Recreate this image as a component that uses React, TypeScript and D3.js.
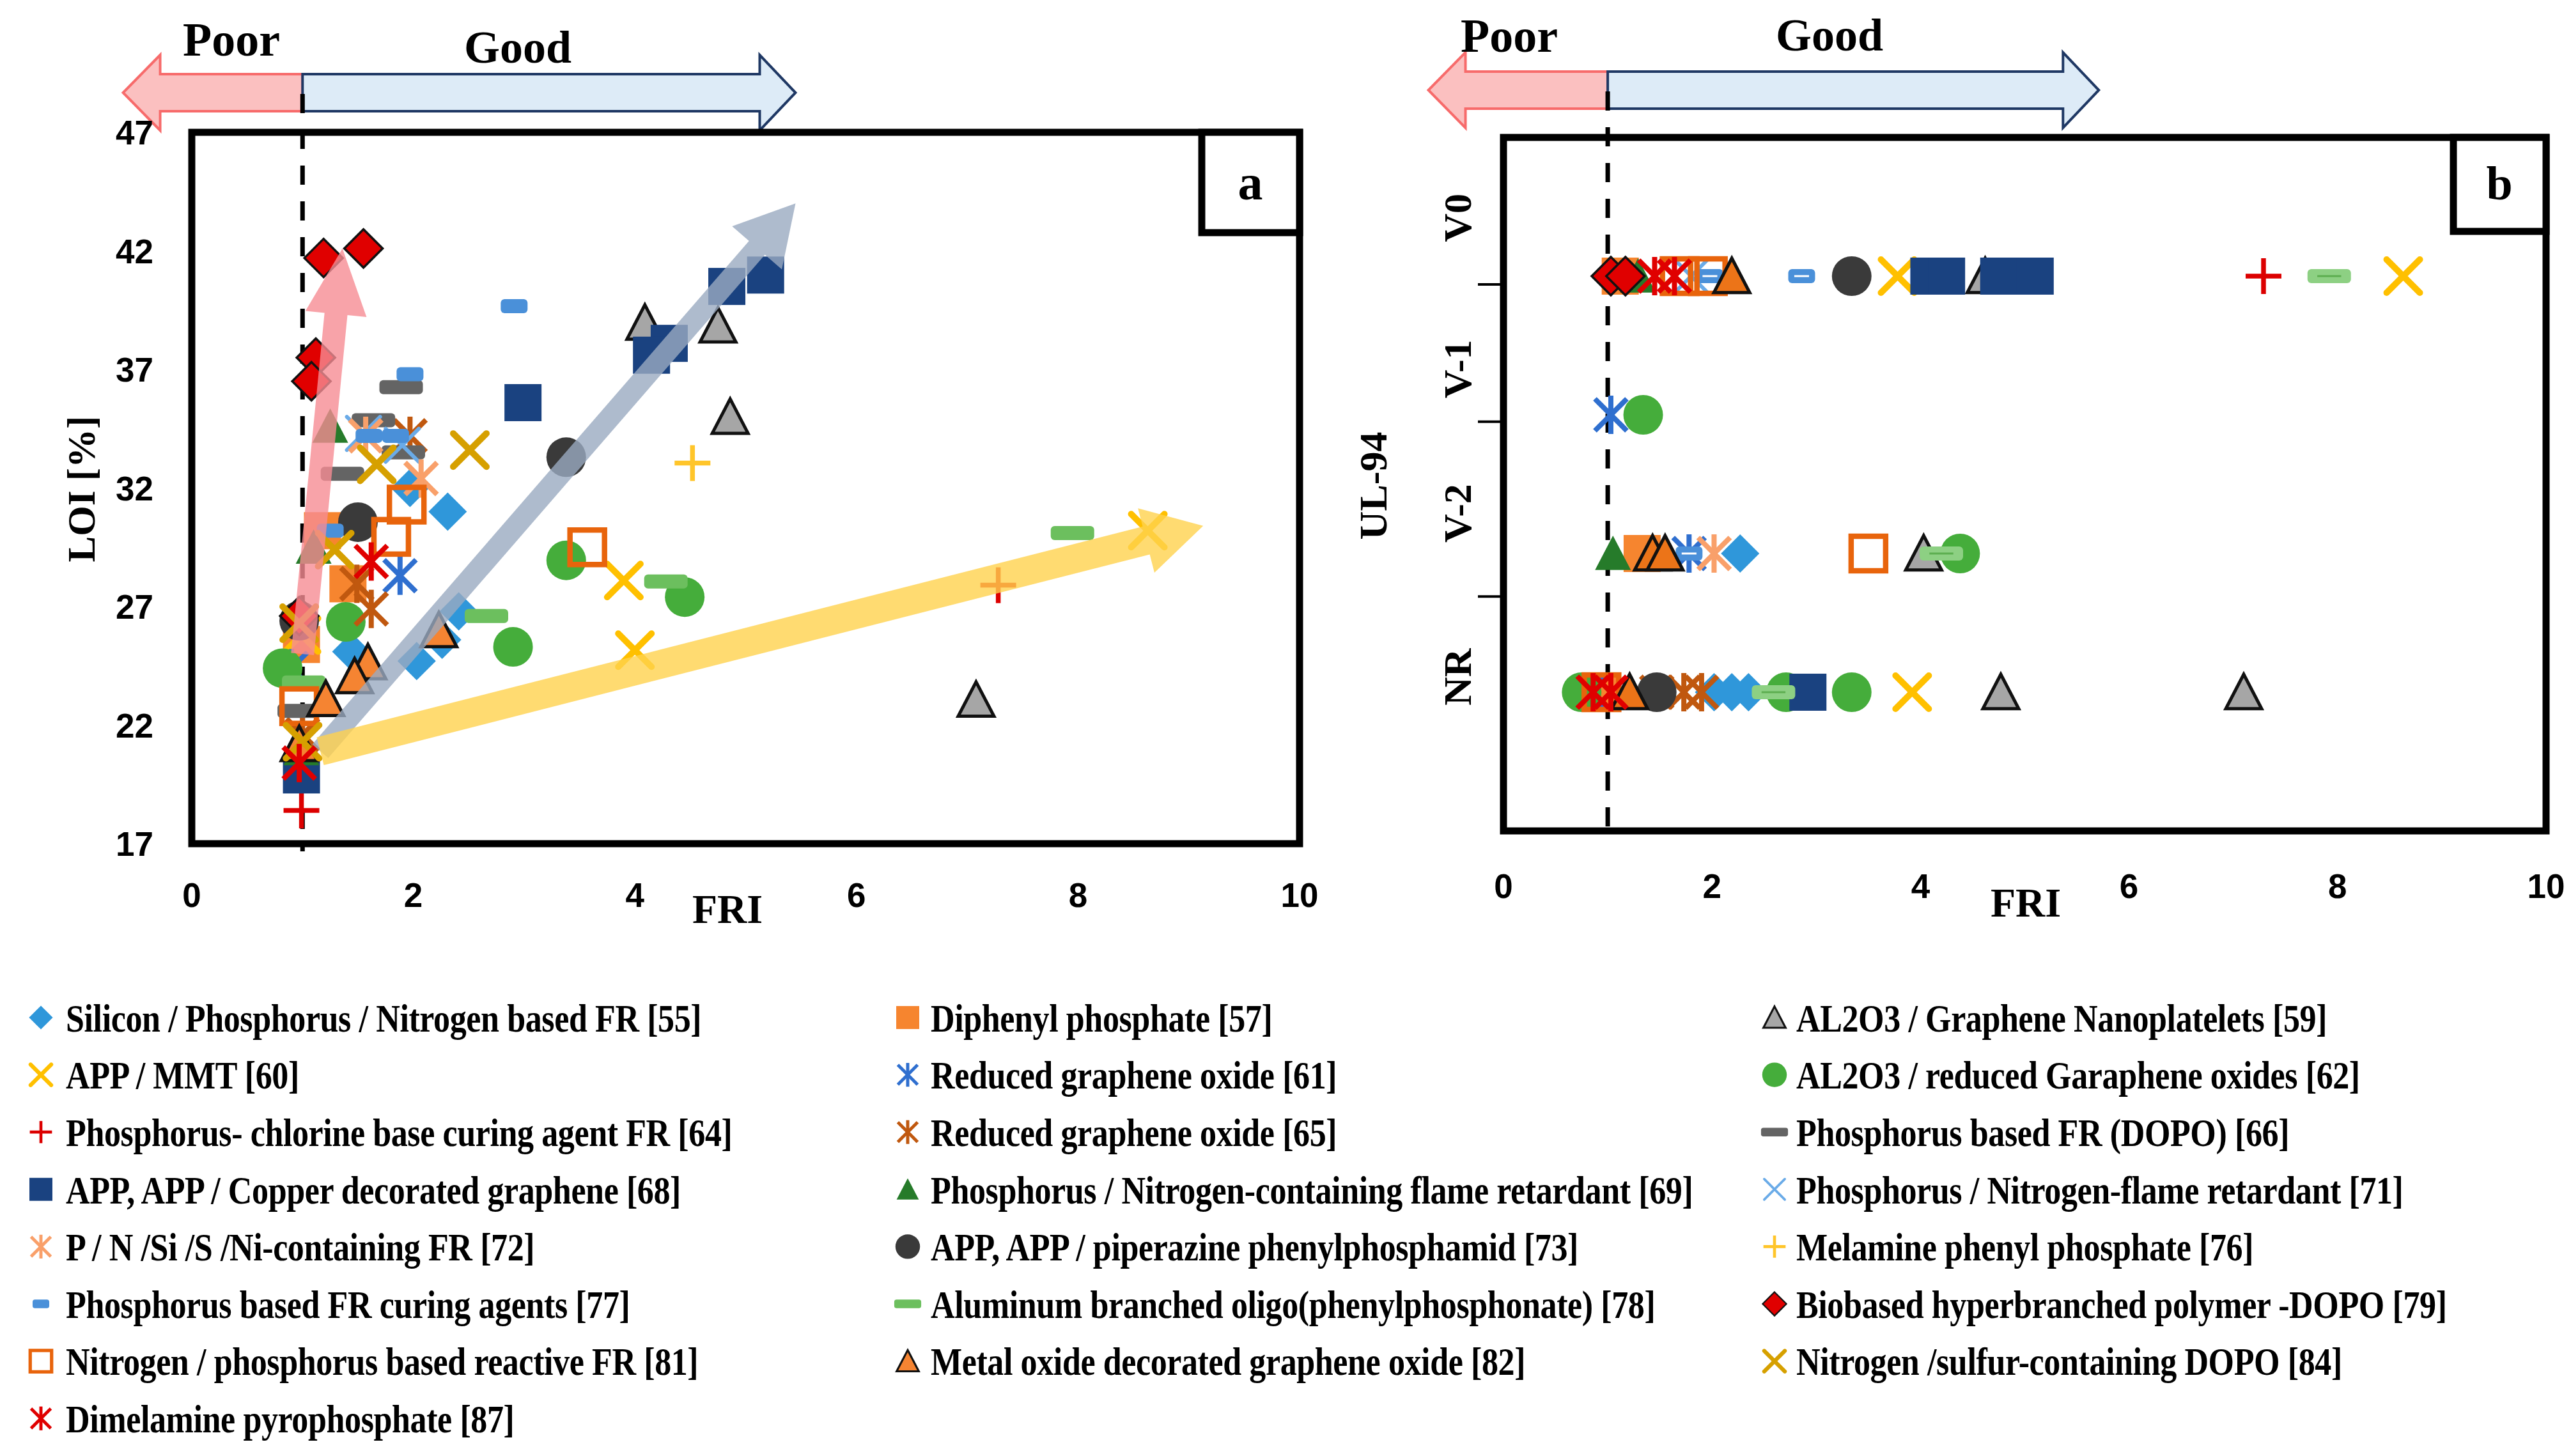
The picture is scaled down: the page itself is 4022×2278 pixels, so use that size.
import * as d3 from "d3";
import { useEffect, useRef } from "react";

const W = 4022;
const H = 2278;

const SERIF = "'Liberation Serif', 'Times New Roman', serif";
const SANS = "'Liberation Sans', Arial, sans-serif";

// axis ticks
const xTicks = [0, 2, 4, 6, 8, 10];
const loiTicks = [17, 22, 27, 32, 37, 42, 47];
const ulCategories = ["NR", "V-2", "V-1", "V0"];
const ulLabelPos = [1.11, 2.29, 3.33, 4.42];
const ulTickPos = [1.69, 2.95, 3.94];

const seriesNames = [
  "Silicon / Phosphorus / Nitrogen based FR [55]",
  "Diphenyl phosphate [57]",
  "AL2O3 / Graphene Nanoplatelets [59]",
  "APP / MMT [60]",
  "Reduced graphene oxide [61]",
  "AL2O3 / reduced Garaphene oxides [62]",
  "Phosphorus- chlorine base curing agent FR [64]",
  "Reduced graphene oxide [65]",
  "Phosphorus based FR (DOPO) [66]",
  "APP, APP / Copper decorated graphene [68]",
  "Phosphorus / Nitrogen-containing flame retardant [69]",
  "Phosphorus / Nitrogen-flame retardant [71]",
  "P / N /Si /S /Ni-containing FR [72]",
  "APP, APP / piperazine phenylphosphamid [73]",
  "Melamine phenyl phosphate [76]",
  "Phosphorus based FR curing agents [77]",
  "Aluminum branched oligo(phenylphosphonate) [78]",
  "Biobased hyperbranched polymer -DOPO [79]",
  "Nitrogen / phosphorus based reactive FR [81]",
  "Metal oxide decorated graphene oxide [82]",
  "Nitrogen /sulfur-containing DOPO [84]",
  "Dimelamine pyrophosphate [87]",
];

// panel a: [FRI, LOI]
const loiData: [number, number][][] = [
  [[1.97, 32.0], [2.31, 31.0], [2.41, 26.8], [2.26, 25.6], [2.03, 24.7], [1.44, 25.1]],
  [[1.18, 30.2], [1.41, 27.96], [0.99, 25.4]],
  [[4.09, 38.97], [4.75, 38.85], [4.86, 35.0], [7.08, 23.07]],
  [[8.63, 30.2], [3.9, 28.1], [4.0, 25.16], [0.99, 25.8]],
  [[1.88, 28.3], [0.9, 24.4]],
  [[3.38, 28.95], [4.45, 27.4], [2.9, 25.3], [1.39, 26.35], [0.82, 24.4]],
  [[7.28, 27.9], [0.99, 18.4]],
  [[1.97, 34.2], [1.49, 27.96], [1.62, 26.9], [1.0, 21.6]],
  [[1.89, 36.25], [1.64, 34.86], [1.91, 33.5], [1.36, 32.6], [0.97, 22.6]],
  [[5.18, 40.98], [4.83, 40.5], [4.31, 38.1], [4.15, 37.6], [2.99, 35.6], [0.99, 19.9]],
  [[1.25, 34.6], [1.1, 29.5], [0.99, 21.0]],
  [[1.9, 33.8], [1.55, 34.3]],
  [[1.57, 34.2], [2.07, 32.4]],
  [[3.38, 33.3], [1.5, 30.56], [0.97, 26.4]],
  [[4.52, 33.05]],
  [[2.91, 39.67], [1.97, 36.8], [1.6, 34.2], [1.84, 34.2], [1.25, 30.2]],
  [[7.95, 30.1], [4.28, 28.06], [2.66, 26.6], [1.01, 23.8]],
  [[1.19, 41.7], [1.55, 42.1], [1.12, 37.5], [1.08, 36.5], [0.97, 26.6]],
  [[3.57, 29.5], [1.94, 31.3], [1.8, 29.94], [0.97, 22.8]],
  [[2.23, 26.0], [1.59, 24.65], [1.47, 24.06], [1.21, 23.1], [0.97, 21.2]],
  [[2.51, 33.6], [1.67, 33.0], [1.29, 29.4], [0.97, 26.3], [1.0, 21.3]],
  [[1.62, 28.9], [0.97, 20.4]],
];

// panel b: [FRI, UL-94 rating]
const ulData: [number, string][][] = [
  [[2.27, "V-2"], [2.02, "NR"], [2.19, "NR"], [2.35, "NR"]],
  [[1.12, "V0"], [1.33, "V-2"], [0.95, "NR"]],
  [[4.62, "V0"], [4.03, "V-2"], [4.77, "NR"], [7.1, "NR"]],
  [[3.78, "V0"], [8.63, "V0"], [3.92, "NR"]],
  [[1.03, "V-1"], [1.78, "V-2"], [0.8, "NR"]],
  [[1.34, "V-1"], [4.38, "V-2"], [0.75, "NR"], [2.71, "NR"], [3.34, "NR"]],
  [[7.29, "V0"]],
  [[1.47, "NR"], [1.73, "NR"], [1.9, "NR"]],
  [],
  [[4.08, "V0"], [4.25, "V0"], [4.75, "V0"], [4.95, "V0"], [5.1, "V0"], [2.92, "NR"]],
  [[1.29, "V0"], [1.05, "V-2"]],
  [[1.8, "V0"]],
  [[2.02, "V-2"]],
  [[3.34, "V0"], [1.47, "NR"]],
  [],
  [[1.98, "V0"], [2.86, "V0"], [1.78, "V-2"]],
  [[7.92, "V0"], [4.2, "V-2"], [2.59, "NR"]],
  [[1.03, "V0"], [1.17, "V0"]],
  [[1.69, "V0"], [1.96, "V0"], [3.5, "V-2"], [0.94, "NR"]],
  [[2.19, "V0"], [1.43, "V-2"], [1.55, "V-2"], [1.21, "NR"]],
  [],
  [[1.45, "V0"], [1.64, "V0"], [0.86, "NR"], [1.03, "NR"]],
];

type Shape = "diamond" | "square" | "osquare" | "triangle" | "circle" | "x" | "star" | "plus" | "dash" | "sdash";
type Style = { shape: Shape; color: string; edge?: string; thin?: boolean; bColor?: string; inner?: string };

const seriesStyle: Style[] = [
  { shape: "diamond", color: "#2F97DA" },
  { shape: "square", color: "#F6852F" },
  { shape: "triangle", color: "#A6A6A6", edge: "#111" },
  { shape: "x", color: "#FFC000" },
  { shape: "star", color: "#2F6FCF" },
  { shape: "circle", color: "#45AD3B" },
  { shape: "plus", color: "#DC0000" },
  { shape: "star", color: "#C0580F" },
  { shape: "dash", color: "#646464" },
  { shape: "square", color: "#1A4280" },
  { shape: "triangle", color: "#267B2A" },
  { shape: "x", color: "#6AABE8", thin: true },
  { shape: "star", color: "#F9A06A" },
  { shape: "circle", color: "#3A3A3A" },
  { shape: "plus", color: "#FFC52A" },
  { shape: "sdash", color: "#4A90D9", inner: "#FFFFFF" },
  { shape: "dash", color: "#6CBF5E", bColor: "#8DD083", inner: "#5DAE50" },
  { shape: "diamond", color: "#E00000", edge: "#111" },
  { shape: "osquare", color: "#E8640C" },
  { shape: "triangle", color: "#F58432", edge: "#111", bColor: "#EC7418" },
  { shape: "x", color: "#D6A000" },
  { shape: "star", color: "#E00000" },
];

type G = d3.Selection<SVGGElement, unknown, null, undefined>;

function drawMarker(g: G, st: Style, x: number, y: number, k: number, inB = false) {
  const m = g.append("g").attr("transform", `translate(${x},${y})`);
  const fill = inB && st.bColor ? st.bColor : st.color;
  const line = (x1: number, y1: number, x2: number, y2: number, w: number, cap = "butt") =>
    m.append("line").attr("x1", x1).attr("y1", y1).attr("x2", x2).attr("y2", y2)
      .attr("stroke", fill).attr("stroke-width", w).attr("stroke-linecap", cap);
  switch (st.shape) {
    case "diamond": {
      const r = 30 * k;
      m.append("path").attr("d", `M0,${-r}L${r},0L0,${r}L${-r},0Z`).attr("fill", fill)
        .attr("stroke", st.edge ?? "none").attr("stroke-width", 3.5 * k);
      break;
    }
    case "square": {
      const r = 29 * k;
      m.append("rect").attr("x", -r).attr("y", -r).attr("width", 2 * r).attr("height", 2 * r).attr("fill", fill);
      break;
    }
    case "osquare": {
      const r = 27 * k;
      m.append("rect").attr("x", -r).attr("y", -r).attr("width", 2 * r).attr("height", 2 * r)
        .attr("fill", "none").attr("stroke", fill).attr("stroke-width", 8.5 * k);
      break;
    }
    case "triangle": {
      const r = 28 * k;
      m.append("path").attr("d", `M0,${-r}L${r},${r * 0.92}L${-r},${r * 0.92}Z`).attr("fill", fill)
        .attr("stroke", st.edge ?? "none").attr("stroke-width", 5 * k).attr("stroke-linejoin", "miter");
      break;
    }
    case "circle":
      m.append("circle").attr("r", 31 * k).attr("fill", fill);
      break;
    case "x": {
      const r = 26 * k;
      const w = (st.thin ? 6 : 10) * k;
      line(-r, -r, r, r, w, "round");
      line(-r, r, r, -r, w, "round");
      break;
    }
    case "star": {
      const r = 25 * k;
      line(-r, -r, r, r, 8 * k);
      line(-r, r, r, -r, 8 * k);
      line(0, -r * 1.2, 0, r * 1.2, 8 * k);
      break;
    }
    case "plus": {
      const r = 28 * k;
      line(-r, 0, r, 0, 7.5 * k);
      line(0, -r, 0, r, 7.5 * k);
      break;
    }
    case "dash":
    case "sdash": {
      const hw = (st.shape === "dash" ? 34 : 21) * k;
      const hh = 11 * k;
      m.append("rect").attr("x", -hw).attr("y", -hh).attr("width", 2 * hw).attr("height", 2 * hh)
        .attr("rx", 6 * k).attr("fill", fill);
      if (inB && st.inner) {
        m.append("line").attr("x1", -hw * 0.55).attr("x2", hw * 0.55).attr("y1", 0).attr("y2", 0)
          .attr("stroke", st.inner).attr("stroke-width", 3 * k);
      }
      break;
    }
  }
}

function arrowPath(x0: number, y0: number, x1: number, y1: number, sw: number, hw: number, hl: number) {
  const dx = x1 - x0;
  const dy = y1 - y0;
  const L = Math.hypot(dx, dy);
  const ux = dx / L;
  const uy = dy / L;
  const nx = -uy;
  const ny = ux;
  const bx = x1 - ux * hl;
  const by = y1 - uy * hl;
  const pts = [
    [x0 + (nx * sw) / 2, y0 + (ny * sw) / 2],
    [bx + (nx * sw) / 2, by + (ny * sw) / 2],
    [bx + (nx * hw) / 2, by + (ny * hw) / 2],
    [x1, y1],
    [bx - (nx * hw) / 2, by - (ny * hw) / 2],
    [bx - (nx * sw) / 2, by - (ny * sw) / 2],
    [x0 - (nx * sw) / 2, y0 - (ny * sw) / 2],
  ];
  return "M" + pts.map((p) => p.join(",")).join("L") + "Z";
}

function topArrows(g: G, x: d3.ScaleLinear<number, number>, yc: number, pinkTip: number, blueTip: number) {
  g.append("path")
    .attr("d", arrowPath(x(1), yc, x(pinkTip), yc, 58, 118, 58))
    .attr("fill", "#FBC0C0").attr("stroke", "#F76B6B").attr("stroke-width", 4);
  g.append("path")
    .attr("d", arrowPath(x(1), yc, x(blueTip), yc, 58, 118, 56))
    .attr("fill", "#DDEBF7").attr("stroke", "#1F3864").attr("stroke-width", 4);
}

export default function App() {
  const ref = useRef<SVGSVGElement>(null);

  useEffect(() => {
    const svg = d3.select(ref.current);
    svg.selectAll("*").remove();
    const root = svg.append("g") as unknown as G;

    // ---------- panel a ----------
    const xA = d3.scaleLinear().domain([0, 10]).range([300, 2033]);
    const yA = d3.scaleLinear().domain([17, 47]).range([1320, 207]);
    const a = root.append("g");

    topArrows(a, xA, 145, -0.62, 5.45);
    a.append("text").attr("x", 362).attr("y", 87).attr("text-anchor", "middle")
      .attr("font-family", SERIF).attr("font-weight", 700).attr("font-size", 74).text("Poor");
    a.append("text").attr("x", 810).attr("y", 98).attr("text-anchor", "middle")
      .attr("font-family", SERIF).attr("font-weight", 700).attr("font-size", 72).text("Good");

    a.append("line").attr("x1", xA(1)).attr("x2", xA(1)).attr("y1", 147).attr("y2", 1332)
      .attr("stroke", "#000").attr("stroke-width", 7).attr("stroke-dasharray", "30 26");

    loiData.forEach((pts, i) => {
      pts.forEach(([f, l]) => drawMarker(a, seriesStyle[i], xA(f), yA(l), 1));
    });

    // trend arrows (drawn over the markers, semi-transparent)
    const trend = [
      { from: [1.0, 25.0], to: [1.36, 42.1], sw: 36, hw: 96, hl: 103, color: "#F68C94" },
      { from: [1.16, 20.9], to: [5.45, 44.0], sw: 33, hw: 103, hl: 92, color: "#9AAAC0" },
      { from: [1.16, 20.9], to: [9.13, 30.4], sw: 45, hw: 104, hl: 92, color: "#FFD24D" },
    ];
    trend.forEach((t) => {
      a.append("path")
        .attr("d", arrowPath(xA(t.from[0]), yA(t.from[1]), xA(t.to[0]), yA(t.to[1]), t.sw, t.hw, t.hl))
        .attr("fill", t.color).attr("opacity", 0.8);
    });

    a.append("rect").attr("x", xA(0)).attr("y", yA(47)).attr("width", xA(10) - xA(0))
      .attr("height", yA(17) - yA(47)).attr("fill", "none").attr("stroke", "#000").attr("stroke-width", 11);
    a.append("rect").attr("x", 1880).attr("y", yA(47)).attr("width", xA(10) - 1880).attr("height", 157)
      .attr("fill", "#fff").attr("stroke", "#000").attr("stroke-width", 11);
    a.append("text").attr("x", 1956).attr("y", 312).attr("text-anchor", "middle")
      .attr("font-family", SERIF).attr("font-weight", 700).attr("font-size", 78).text("a");

    a.selectAll("text.yt").data(loiTicks).enter().append("text")
      .attr("x", 240).attr("y", (d) => yA(d)).attr("dy", "0.36em").attr("text-anchor", "end")
      .attr("font-family", SANS).attr("font-weight", 700).attr("font-size", 53).text((d) => d);
    a.selectAll("text.xt").data(xTicks).enter().append("text")
      .attr("x", (d) => xA(d)).attr("y", 1400).attr("dy", "0.36em").attr("text-anchor", "middle")
      .attr("font-family", SANS).attr("font-weight", 700).attr("font-size", 53).text((d) => d);
    a.append("text").attr("x", 1138).attr("y", 1444).attr("text-anchor", "middle")
      .attr("font-family", SERIF).attr("font-weight", 700).attr("font-size", 64).text("FRI");
    a.append("text").attr("transform", "translate(127,765) rotate(-90)").attr("dy", "0.35em")
      .attr("text-anchor", "middle").attr("font-family", SERIF).attr("font-weight", 700)
      .attr("font-size", 61).text("LOI [%]");

    // ---------- panel b ----------
    const xB = d3.scaleLinear().domain([0, 10]).range([2352, 3983]);
    const yB = d3.scaleLinear().domain([0, 5]).range([1300, 215]);
    const b = root.append("g");

    topArrows(b, xB, 141, -0.72, 5.71);
    b.append("text").attr("x", 2361).attr("y", 81).attr("text-anchor", "middle")
      .attr("font-family", SERIF).attr("font-weight", 700).attr("font-size", 74).text("Poor");
    b.append("text").attr("x", 2862).attr("y", 79).attr("text-anchor", "middle")
      .attr("font-family", SERIF).attr("font-weight", 700).attr("font-size", 72).text("Good");

    b.append("line").attr("x1", xB(1)).attr("x2", xB(1)).attr("y1", 143).attr("y2", 1306)
      .attr("stroke", "#000").attr("stroke-width", 7).attr("stroke-dasharray", "30 26");

    const rating = (c: string) => ulCategories.indexOf(c) + 1;
    ulData.forEach((pts, i) => {
      pts.forEach(([f, c]) => drawMarker(b, seriesStyle[i], xB(f), yB(rating(c)), 1, true));
    });

    b.append("rect").attr("x", xB(0)).attr("y", yB(5)).attr("width", xB(10) - xB(0))
      .attr("height", yB(0) - yB(5)).attr("fill", "none").attr("stroke", "#000").attr("stroke-width", 11);
    b.append("rect").attr("x", 3838).attr("y", yB(5)).attr("width", xB(10) - 3838).attr("height", 147)
      .attr("fill", "#fff").attr("stroke", "#000").attr("stroke-width", 11);
    b.append("text").attr("x", 3910).attr("y", 312).attr("text-anchor", "middle")
      .attr("font-family", SERIF).attr("font-weight", 700).attr("font-size", 74).text("b");

    b.selectAll("line.tk").data(ulTickPos).enter().append("line")
      .attr("x1", xB(0) - 40).attr("x2", xB(0)).attr("y1", (d) => yB(d)).attr("y2", (d) => yB(d))
      .attr("stroke", "#000").attr("stroke-width", 4);
    b.selectAll("text.cat").data(ulCategories).enter().append("text")
      .attr("transform", (_d, i) => `translate(2279,${yB(ulLabelPos[i])}) rotate(-90)`)
      .attr("dy", "0.35em").attr("text-anchor", "middle")
      .attr("font-family", SERIF).attr("font-weight", 700).attr("font-size", 62).text((d) => d);
    b.selectAll("text.xt").data(xTicks).enter().append("text")
      .attr("x", (d) => xB(d)).attr("y", 1386).attr("dy", "0.36em").attr("text-anchor", "middle")
      .attr("font-family", SANS).attr("font-weight", 700).attr("font-size", 53).text((d) => d);
    b.append("text").attr("x", 3169).attr("y", 1434).attr("text-anchor", "middle")
      .attr("font-family", SERIF).attr("font-weight", 700).attr("font-size", 64).text("FRI");
    b.append("text").attr("transform", "translate(2147,760) rotate(-90)").attr("dy", "0.35em")
      .attr("text-anchor", "middle").attr("font-family", SERIF).attr("font-weight", 700)
      .attr("font-size", 62).text("UL-94");

    // ---------- legend ----------
    const colIcon = [64, 1420, 2776];
    const colText = [103, 1456, 2810];
    const leg = root.append("g");
    seriesNames.forEach((name, i) => {
      const row = Math.floor(i / 3);
      const col = i % 3;
      const y = 1592 + row * 89.6;
      drawMarker(leg, seriesStyle[i], colIcon[col], y, 0.62);
      leg.append("text")
        .attr("transform", `translate(${colText[col]},${y}) scale(0.84,1)`)
        .attr("dy", "0.35em").attr("font-family", SERIF).attr("font-weight", 700)
        .attr("font-size", 62).attr("letter-spacing", -0.5).text(name);
    });
  }, []);

  return (
    <svg
      ref={ref}
      width={W}
      height={H}
      style={{ position: "absolute", left: 0, top: 0, background: "#fff" }}
    />
  );
}
